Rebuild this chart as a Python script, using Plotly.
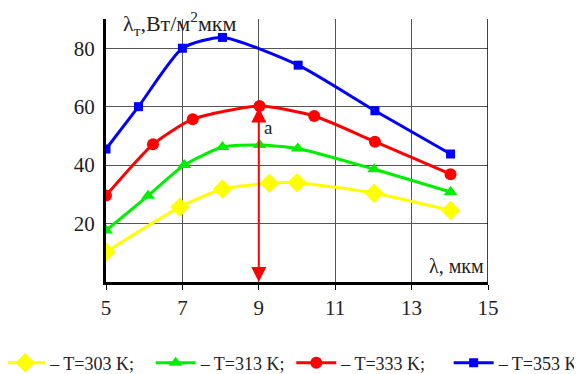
import plotly.graph_objects as go

# Data
x_303 = [5, 6.93, 8.05, 9.28, 10.0, 12.02, 14.02]
y_303 = [10.3, 25.6, 31.8, 33.8, 34.0, 30.4, 24.5]

x_313 = [5, 6.1, 7.05, 8.05, 9.02, 10.02, 12.02, 14.02]
y_313 = [17.6, 29.5, 40.0, 46.2, 46.9, 45.7, 38.6, 30.8]

x_333 = [5, 6.23, 7.27, 9.02, 10.45, 12.04, 14.02]
y_333 = [29.6, 47.1, 55.7, 60.2, 56.8, 48.0, 36.9]

x_353 = [5, 5.85, 7.0, 8.05, 10.03, 12.04, 14.02]
y_353 = [45.5, 60.0, 80.0, 83.7, 74.2, 58.6, 43.8]

names = ["\u2013 T=303 K;", "\u2013 T=313 K;", "\u2013 T=333 K;", "\u2013 T=353 K"]
colors = ["#ffff00", "#00ee00", "#ff0000", "#0000ff"]
symbols = ["diamond", "triangle-up", "circle", "square"]
sizes = [15, 12, 12, 9]

x_ticks = [5, 7, 9, 11, 13, 15]
y_ticks = [20, 40, 60, 80]

arrow_x = 9
arrow_top = 60.2

FONT = "Liberation Serif, Times New Roman, DejaVu Serif, serif"

legend_ids = ["legend", "legend2", "legend3", "legend4"]
legend_x = [-0.277, 0.117, 0.485, 0.897]   # paper-relative position of each legend entry

fig = go.Figure()
for xs, ys, nm, c, s, sz, lg in zip([x_303, x_313, x_333, x_353],
                                    [y_303, y_313, y_333, y_353],
                                    names, colors, symbols, sizes, legend_ids):
    fig.add_trace(go.Scatter(
        x=xs, y=ys, name=nm, mode="lines+markers", legend=lg,
        line=dict(color=c, width=3, shape="spline", smoothing=0.6),
        marker=dict(color=c, symbol=s, size=sz),
    ))

# The page body has an 8px margin, so the figure is 8px smaller and margins shifted
fig.update_layout(
    width=574, height=366,
    margin=dict(l=98, r=94, t=11, b=92, autoexpand=False),
    plot_bgcolor="white", paper_bgcolor="white",
    font=dict(family=FONT, size=18, color="#222"),
    showlegend=True,
    xaxis=dict(range=[5, 15], tickvals=x_ticks, showgrid=True, gridcolor="#555",
               gridwidth=1, showline=True, linecolor="black", linewidth=3,
               ticks="outside", ticklen=5, tickcolor="black", zeroline=False,
               tickfont=dict(family=FONT, size=21, color="#222")),
    yaxis=dict(range=[0, 90], tickvals=y_ticks, showgrid=True, gridcolor="#555",
               gridwidth=1, showline=True, linecolor="black", linewidth=3,
               ticks="", zeroline=False, ticklabelstandoff=4,
               tickfont=dict(family=FONT, size=21, color="#222")),
)
for lg, lx in zip(legend_ids, legend_x):
    fig.update_layout({lg: dict(orientation="h", xref="paper", yref="container",
                                x=lx, xanchor="left", y=0.03, yanchor="middle",
                                font=dict(family=FONT, size=18, color="#222"),
                                itemwidth=40, bgcolor="rgba(0,0,0,0)")})

# right border
fig.add_shape(type="line", xref="x", yref="paper", x0=15, x1=15, y0=0, y1=1,
              line=dict(color="black", width=1.5))

# double-headed arrow at lambda = 9
fig.add_annotation(x=arrow_x, y=0, ax=arrow_x, ay=arrow_top, xref="x", yref="y",
                   axref="x", ayref="y", showarrow=True, arrowhead=2, startarrowhead=2,
                   arrowside="end+start", arrowcolor="red", arrowwidth=2, arrowsize=1.5,
                   startarrowsize=1.5, text="")
fig.add_annotation(x=arrow_x, y=arrow_top - 3, xref="x", yref="y", text="a",
                   showarrow=False, xanchor="left", yanchor="top", xshift=3,
                   font=dict(family=FONT, size=19, color="#222"))

# axis titles
fig.add_annotation(xref="paper", yref="paper", x=0.04, y=1.0, xanchor="left",
                   yanchor="middle", yshift=-4, showarrow=False,
                   text="\u03bb<sub>т</sub>,Вт/м<sup>2</sup>мкм",
                   font=dict(family=FONT, size=22, color="#222"))
fig.add_annotation(xref="paper", yref="paper", x=0.995, y=0.01, xanchor="right",
                   yanchor="bottom", showarrow=False, text="\u03bb, мкм",
                   font=dict(family=FONT, size=20, color="#222"))

fig.write_html("out.html")
